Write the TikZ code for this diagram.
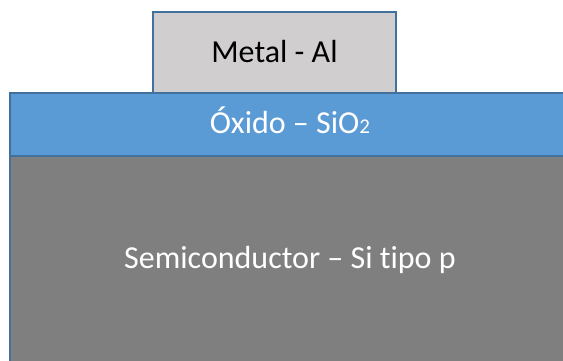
\documentclass[tikz,border=0pt]{standalone}
\usepackage{fontspec}
\setmainfont[Ligatures={NoCommon}]{Carlito}
\definecolor{edge}{HTML}{41719C}
\definecolor{oxfill}{HTML}{5B9BD5}
\definecolor{metfill}{HTML}{D0CECE}
\definecolor{semfill}{HTML}{7F7F7F}
\begin{document}
\begin{tikzpicture}[x=1pt,y=-1pt,
  layer/.style={draw=edge,line width=1.2pt},
  lbl/.style={font=\fontsize{32}{38}\selectfont,inner sep=0pt,anchor=base}]
\useasboundingbox (0,0) rectangle (563,360);
\clip (0,0) rectangle (563,360);
\fill[white] (0,0) rectangle (563,360);
\path[layer,fill=semfill] (10,156) rectangle (570,380);
\path[layer,fill=oxfill] (10,93) rectangle (570,156);
\path[layer,fill=metfill] (153,12) rectangle (396,93);
\node[lbl,text=black] (metal) at (274.5,62.5) {Metal - Al};
\node[lbl,text=white] (oxide) at (290,133) {Óxido – SiO{\fontsize{21}{24}\selectfont 2}};
\node[lbl,text=white] (semi) at (290,268) {Semiconductor – Si tipo p};
\end{tikzpicture}
\end{document}
